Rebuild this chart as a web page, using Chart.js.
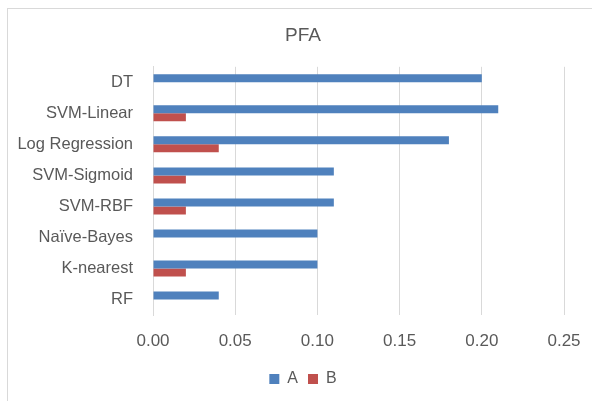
<!DOCTYPE html>
<html lang="en">
<head>
  <meta charset="UTF-8" />
  <title>PFA</title>
  <script src="https://cdn.jsdelivr.net/npm/chart.js"></script>
  <style>
    html, body {
      margin: 0;
      padding: 0;
      background: #fff;
      overflow: hidden;
    }
    .frame {
      position: absolute;
      left: 7px;
      top: 8px;
      width: 600px;
      height: 400px;
      border: 1px solid #d9d9d9;
      box-sizing: border-box;
    }
    .chart-box {
      position: absolute;
      left: 0;
      top: 0;
      width: 592px;
      height: 401px;
    }
  </style>
</head>
<body>
  <div class="frame"></div>
  <div class="chart-box"><canvas id="pfaChart"></canvas></div>

  <script>
    const categories = ["DT", "SVM-Linear", "Log Regression", "SVM-Sigmoid", "SVM-RBF", "Naïve-Bayes", "K-nearest", "RF"];
    const seriesA = [0.20, 0.21, 0.18, 0.11, 0.11, 0.10, 0.10, 0.04];
    const seriesB = [0.00, 0.02, 0.04, 0.02, 0.02, 0.00, 0.02, 0.00];
    const xTicks = [0, 0.05, 0.10, 0.15, 0.20, 0.25];

    const textColor = '#595959';
    const fontFamily = "'Liberation Sans', Arial, sans-serif";

    new Chart(document.getElementById('pfaChart'), {
      type: 'bar',
      data: {
        labels: categories,
        datasets: [
          { label: 'A', data: seriesA, backgroundColor: '#4f81bd' },
          { label: 'B', data: seriesB, backgroundColor: '#c0504d' }
        ]
      },
      options: {
        indexAxis: 'y',
        responsive: true,
        maintainAspectRatio: false,
        animation: false,
        categoryPercentage: 16 / 31,
        barPercentage: 1,
        // left padding keeps title and legend centred like the original
        layout: { padding: { left: 42, right: 28, top: 8, bottom: 4 } },
        plugins: {
          title: {
            display: true,
            text: 'PFA',
            color: textColor,
            font: { family: fontFamily, size: 19, weight: 'normal' },
            padding: { top: 16, bottom: 20 }
          },
          legend: {
            position: 'bottom',
            labels: {
              color: textColor,
              font: { family: fontFamily, size: 16 },
              boxWidth: 10,
              boxHeight: 10,
              padding: 10
            }
          },
          tooltip: { enabled: false }
        },
        scales: {
          x: {
            min: 0,
            max: 0.25,
            afterBuildTicks: scale => {
              scale.ticks = xTicks.map(v => ({ value: v }));
            },
            afterFit: scale => {
              scale.height = 46;
              // the layout padding already leaves room for the last label
              scale.paddingRight = 0;
            },
            ticks: {
              color: textColor,
              font: { family: fontFamily, size: 17 },
              padding: 16,
              callback: v => Number(v).toFixed(2)
            },
            grid: { color: '#d9d9d9', drawTicks: false },
            border: { display: false }
          },
          y: {
            afterFit: scale => {
              scale.width = 111;
              // long category names reach past the padding, so don't clip them
              scale._computeLabelArea = () => null;
            },
            ticks: {
              color: textColor,
              font: { family: fontFamily, size: 16.5 },
              padding: 20
            },
            grid: { display: false, drawTicks: false },
            border: { display: true, color: '#d9d9d9' }
          }
        }
      }
    });
  </script>
</body>
</html>
